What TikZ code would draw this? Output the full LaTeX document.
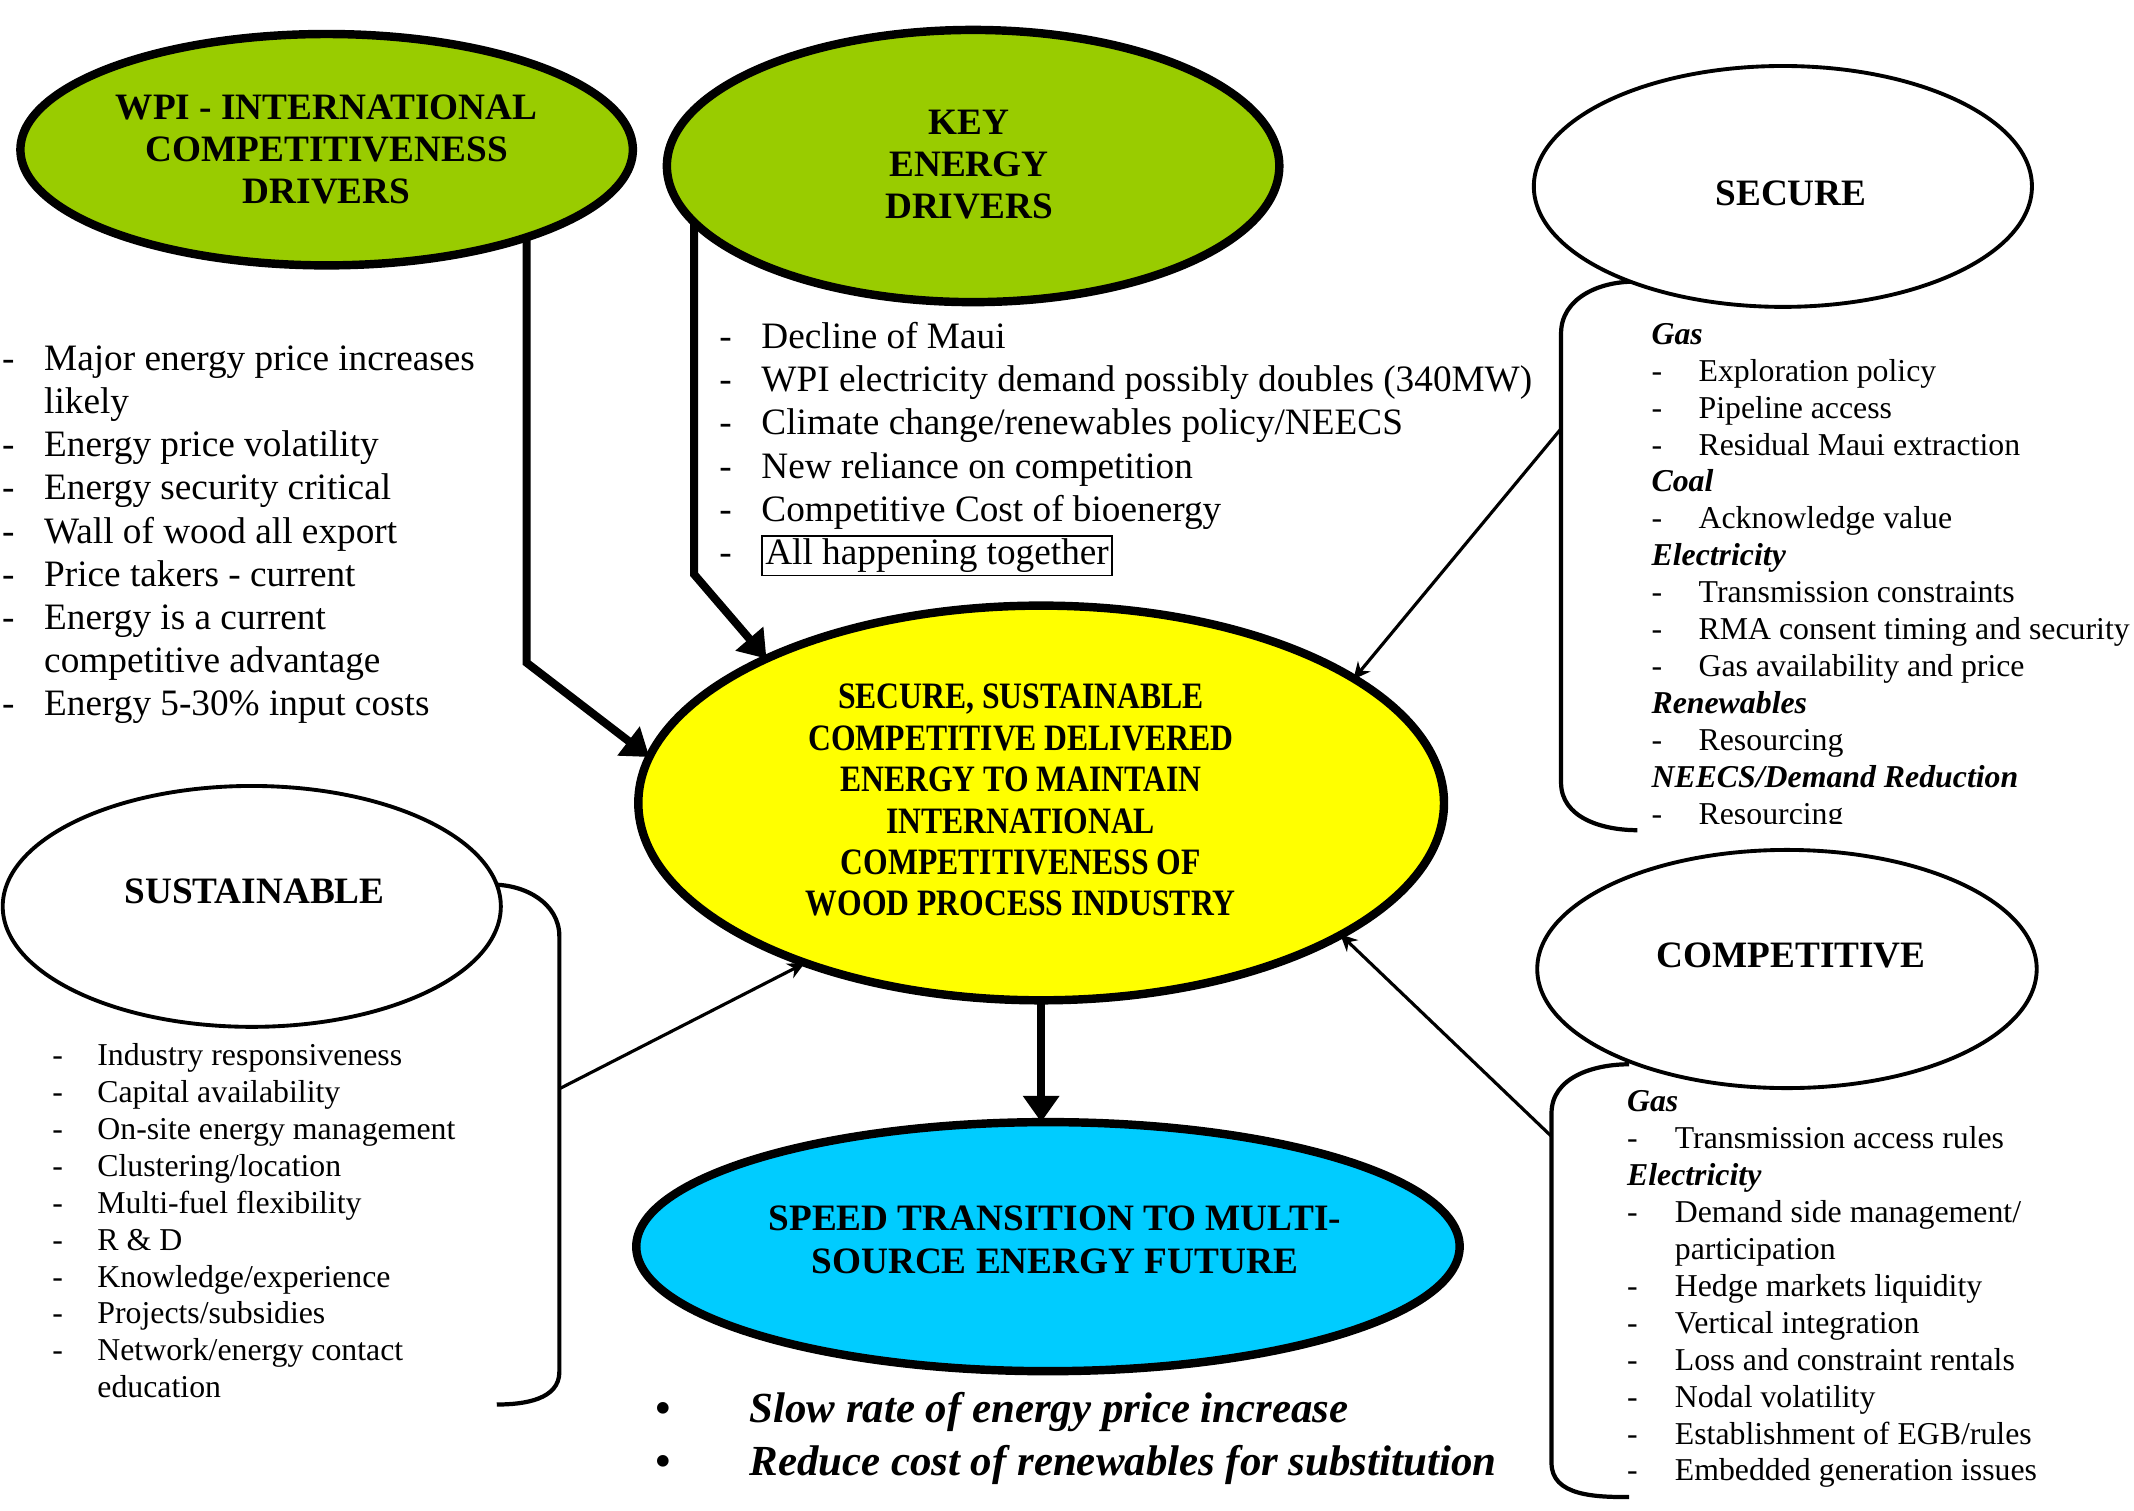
\documentclass[tikz,border=0pt]{standalone}
\usepackage{fontspec}
\setmainfont{Liberation Serif}
\newfontfamily\condfont[FakeStretch=0.85]{Liberation Serif}
\usepackage{array}
\usetikzlibrary{shapes.geometric,arrows.meta}
\pgfdeclarelayer{bg}
\pgfsetlayers{bg,main}
\definecolor{wpigreen}{HTML}{99CC00}
\definecolor{coreyellow}{HTML}{FFFF00}
\definecolor{skycyan}{HTML}{00CCFF}
\begin{document}
\begin{tikzpicture}[x=0.01361cm,y=-0.01361cm,
  ell/.style 2 args={ellipse, inner sep=0pt, minimum width=#1*0.01361cm, minimum height=#2*0.01361cm},
  heavy/.style={draw, line width=2.4pt},
  light/.style={draw, line width=1.1pt, fill=white},
  titletxt/.style={align=center, inner sep=0pt, font=\fontsize{10.6}{12}\selectfont\bfseries},
  listA/.style={anchor=base west, inner sep=0pt, font=\fontsize{10.6}{12.3}\selectfont},
  listB/.style={anchor=base west, inner sep=0pt, font=\fontsize{9.05}{10.5}\selectfont},
  bigarrow/.style={line width=2.3pt, -{Triangle[length=7.5pt,width=10pt]}, shorten >=-1.2pt},
  smallarrow/.style={line width=0.9pt, -{Stealth[length=4.8pt,width=4.6pt]}, shorten >=-1.4pt},
  bracketline/.style={line width=1.2pt}
]
\useasboundingbox (0,0) rectangle (1568,1110);

% ---------- ellipses ----------
\node[ell={450}{170}, heavy, fill=wpigreen] (wpi) at (240,110) {};
\node[ell={450}{200}, heavy, fill=wpigreen] (key) at (715,122) {};
\node[ell={366}{177}, light] (secure) at (1310,137) {};
\node[ell={592}{290}, heavy, fill=coreyellow] (core) at (765,590) {};
\node[ell={366}{177}, light] (sustain) at (185,666) {};
\node[ell={367}{175}, light] (compet) at (1313,712) {};
\node[ell={605}{183}, heavy, fill=skycyan] (cyan) at (770,916) {};

% ---------- titles ----------
\node[titletxt] (wpit) at (240,110) {WPI - INTERNATIONAL\\COMPETITIVENESS\\DRIVERS};
\node[titletxt] (keyt) at (712,121) {KEY\\ENERGY\\DRIVERS};
\node[titletxt] (securet) at (1316,142) {SECURE};
\node[titletxt] (sustaint) at (187,655) {SUSTAINABLE};
\node[titletxt] (compett) at (1316,702) {COMPETITIVE};
\node[align=center, inner sep=0pt, font=\fontsize{10.6}{11.8}\selectfont\condfont\bfseries] (coret) at (750,588)
  {SECURE, SUSTAINABLE\\COMPETITIVE DELIVERED\\ENERGY TO MAINTAIN\\INTERNATIONAL\\COMPETITIVENESS OF\\WOOD PROCESS INDUSTRY};
\node[titletxt] (cyant) at (775,911) {SPEED TRANSITION TO MULTI-\\SOURCE ENERGY FUTURE};

% ---------- lists ----------
\node[listA] (wpilist) at (1,272) {\begin{tabular}[t]{@{}p{12pt}@{}l@{}}
- & Major energy price increases\\
  & likely\\
- & Energy price volatility\\
- & Energy security critical\\
- & Wall of wood all export\\
- & Price takers - current\\
- & Energy is a current\\
  & competitive advantage\\
- & Energy 5-30\% input costs
\end{tabular}};

\node[listA] (keylist) at (528,256) {\begin{tabular}[t]{@{}p{12pt}@{}l@{}}
- & Decline of Maui\\
- & WPI electricity demand possibly doubles (340MW)\\
- & Climate change/renewables policy/NEECS\\
- & New reliance on competition\\
- & Competitive Cost of bioenergy\\
- & {\setlength{\fboxsep}{0.6pt}\setlength{\fboxrule}{0.5pt}\fbox{All happening together}}
\end{tabular}};

\begin{scope}
\clip (1150,200) rectangle (1568,605);
\node[listB] (securelist) at (1213,253) {\begin{tabular}[t]{@{}p{13.4pt}@{}l@{}}
\multicolumn{2}{@{}l@{}}{\bfseries\itshape Gas}\\
- & Exploration policy\\
- & Pipeline access\\
- & Residual Maui extraction\\
\multicolumn{2}{@{}l@{}}{\bfseries\itshape Coal}\\
- & Acknowledge value\\
\multicolumn{2}{@{}l@{}}{\bfseries\itshape Electricity}\\
- & Transmission constraints\\
- & RMA consent timing and security\\
- & Gas availability and price\\
\multicolumn{2}{@{}l@{}}{\bfseries\itshape Renewables}\\
- & Resourcing\\
\multicolumn{2}{@{}l@{}}{\bfseries\itshape NEECS/Demand Reduction}\\
- & Resourcing
\end{tabular}};
\end{scope}

\node[listB] (sustainlist) at (38,783) {\begin{tabular}[t]{@{}p{12.8pt}@{}l@{}}
- & Industry responsiveness\\
- & Capital availability\\
- & On-site energy management\\
- & Clustering/location\\
- & Multi-fuel flexibility\\
- & R \& D\\
- & Knowledge/experience\\
- & Projects/subsidies\\
- & Network/energy contact\\
  & education
\end{tabular}};

\node[listB] (competlist) at (1195,817) {\begin{tabular}[t]{@{}p{13.6pt}@{}l@{}}
\multicolumn{2}{@{}l@{}}{\bfseries\itshape Gas}\\
- & Transmission access rules\\
\multicolumn{2}{@{}l@{}}{\bfseries\itshape Electricity}\\
- & Demand side management/\\
  & participation\\
- & Hedge markets liquidity\\
- & Vertical integration\\
- & Loss and constraint rentals\\
- & Nodal volatility\\
- & Establishment of EGB/rules\\
- & Embedded generation issues
\end{tabular}};

\node[anchor=base west, inner sep=0pt, font=\fontsize{12.2}{15.1}\selectfont\bfseries\itshape] (outcomes) at (481,1045)
{\begin{tabular}[t]{@{}p{26.8pt}@{}l@{}}
\textbullet & Slow rate of energy price increase\\
\textbullet & Reduce cost of renewables for substitution
\end{tabular}};

% ---------- brackets ----------
\coordinate (secb) at (1147,315);
\coordinate (sustb) at (411,800);
\coordinate (compb) at (1140,835);
\begin{pgfonlayer}{bg}
\draw[bracketline] (1200,207) to[out=180,in=90] (1147,245) -- (secb) -- (1147,575) to[out=-90,in=180] (1203,610);
\draw[bracketline] (362,650) to[out=0,in=90] (411,688) -- (sustb) -- (411,1008) to[out=-90,in=0] (365,1032);
\draw[bracketline] (1197,782) to[out=180,in=90] (1140,818) -- (compb) -- (1140,1075) to[out=-90,in=180] (1197,1100);

% ---------- heavy connectors ----------
\coordinate (wbend) at (387,487);
\coordinate (kbend) at (510,422);
\draw[bigarrow] (wpi.center -| wbend) -- (wbend) -- (core.173);
\draw[bigarrow] (key.center -| kbend) -- (kbend) -- (core.152.5);
\draw[bigarrow] (core.center) -- (core.center |- cyan.north);
\end{pgfonlayer}

% ---------- light connectors ----------
\draw[smallarrow] (secb) -- (core.22.3);
\draw[smallarrow] (sustb) -- (core.214.4);
\draw[smallarrow] (compb) -- (core.-24.1);
\end{tikzpicture}
\end{document}
